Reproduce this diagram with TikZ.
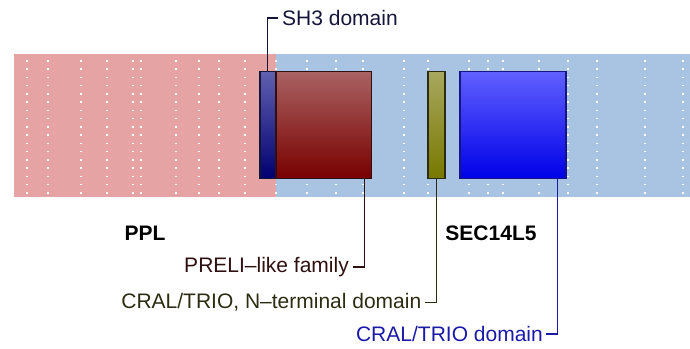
\documentclass[tikz,border=0pt]{standalone}
\usepackage{fontspec}
\setmainfont{Liberation Sans}
\usepackage{tikz}
\usetikzlibrary{positioning}
\definecolor{pplbg}{HTML}{E5A3A3}
\definecolor{secbg}{HTML}{A9C4E2}
\definecolor{sh3ink}{HTML}{15153A}
\definecolor{preliink}{HTML}{2E1010}
\definecolor{oliveink}{HTML}{2C2C12}
\definecolor{cralink}{HTML}{1A1AA8}

\begin{document}
\begin{tikzpicture}[x=1pt, y=-1pt,
  dom/.style={draw, line width=1.2pt, inner sep=0pt, minimum height=107pt},
  lbl/.style={font=\fontsize{21}{25}\selectfont, inner sep=0pt},
  prot/.style={font=\fontsize{21}{25}\selectfont\bfseries, inner sep=0pt},
  dotline/.style={white, line width=1.5pt, dash pattern=on 1.5pt off 6.75pt},
  con/.style={line width=1.5pt},
]
\useasboundingbox (0,0) rectangle (690,348);
% protein backgrounds
\fill[pplbg] (14,54) rectangle (276,196.5);
\fill[secbg] (276,54) rectangle (690,196.5);
\foreach \x in {27,48,81,107,133,141,176,199,219,245,276,307,336,363,404,428,469,488,503,539,568,597,645,683}
  \draw[dotline] (\x,60) -- (\x,196);

% domains
\node[dom, draw=sh3ink, top color={rgb,255:red,96;green,96;blue,176}, bottom color={rgb,255:red,0;green,0;blue,112},
  minimum width=16pt] (sh3) at (268,125) {};
\node[dom, draw=preliink, top color={rgb,255:red,170;green,98;blue,98}, bottom color={rgb,255:red,120;green,0;blue,0},
  minimum width=95.5pt] (preli) at (323.75,125) {};
\node[dom, draw=oliveink, top color={rgb,255:red,168;green,168;blue,96}, bottom color={rgb,255:red,120;green,120;blue,0},
  minimum width=17pt] (crn) at (436.5,125) {};
\node[dom, draw=cralink!80!black, top color={rgb,255:red,96;green,96;blue,255}, bottom color={rgb,255:red,0;green,0;blue,232},
  minimum width=106pt] (cral) at (513,125) {};

% protein names
\node[prot] (ppl) at (145,233) {PPL};
\node[prot] (sec) at (491,233) {SEC14L5};

% domain labels
\node[lbl, text=sh3ink, anchor=west] (sh3lbl) at (282,18) {SH3 domain};
\node[lbl, text=preliink, anchor=east] (prelilbl) at (349,267) {PRELI–like family};
\node[lbl, text=oliveink, anchor=east] (crnlbl) at (421.5,302.5) {CRAL/TRIO, N–terminal domain};
\node[lbl, text=cralink, anchor=east] (crallbl) at (543,334) {CRAL/TRIO domain};

\draw[con, sh3ink] ([xshift=-0.7pt]sh3.north) |- ([xshift=-4pt]sh3lbl.west);
\draw[con, preliink] ([xshift=-7.5pt]preli.south east) |- ([xshift=4pt]prelilbl.east);
\draw[con, oliveink] (crn.south) |- ([xshift=3.5pt]crnlbl.east);
\draw[con, cralink] ([xshift=-9pt]cral.south east) |- ([xshift=3pt]crallbl.east);
\end{tikzpicture}
\end{document}
